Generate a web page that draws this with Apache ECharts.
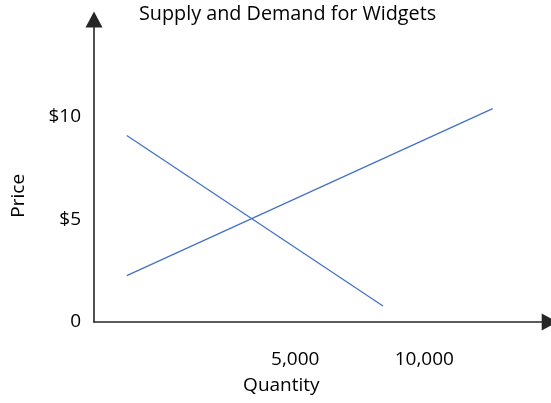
<!DOCTYPE html>
<html>
<head>
<meta charset="utf-8">
<script src="https://cdn.jsdelivr.net/npm/echarts@6/dist/echarts.min.js"></script>
<style>html,body{margin:0;padding:0;background:#fff}#c{width:551px;height:403px}</style>
</head>
<body>
<div id="c"></div>
<script>
// ---- data ----
var titleText = 'Supply and Demand for Widgets';
var xName = 'Quantity';
var yName = 'Price';
var xTickValues = [5000, 10000];
var xTickLabels = ['5,000', '10,000'];
var yTickValues = [0, 5, 10];
var yTickLabels = ['0', '$5', '$10'];
var supplyQty = [-1530, 12650];
var supplyPrice = [2.25, 10.37];
var demandQty = [-1530, 8400];
var demandPrice = [9.06, 0.78];

function pairs(xs, ys) { return xs.map(function (x, i) { return [x, ys[i]]; }); }

var FONT = 'Open Sans';
var chart = echarts.init(document.getElementById('c'), null, { renderer: 'canvas' });
chart.setOption({
  animation: false,
  backgroundColor: '#ffffff',
  title: {
    text: titleText,
    left: 139,
    top: 4,
    padding: 0,
    textStyle: { fontFamily: FONT, fontSize: 19.8, fontWeight: 'normal', color: '#000' }
  },
  grid: { left: 94, right: 1.3, top: 19.5, bottom: 81, containLabel: false },
  xAxis: {
    type: 'value',
    min: -2800,
    max: 14860,
    splitLine: { show: false },
    axisTick: { show: false },
    axisLine: {
      onZero: false,
      symbol: ['none', 'triangle'],
      symbolSize: [17, 16],
      lineStyle: { color: '#262626', width: 1.6 }
    },
    axisLabel: {
      customValues: xTickValues,
      formatter: function (v) { var i = xTickValues.indexOf(v); return i >= 0 ? xTickLabels[i] : ''; },
      margin: 28,
      fontFamily: FONT, fontSize: 19, color: '#000'
    },
    name: xName,
    nameLocation: 'middle',
    nameGap: 54,
    nameTextStyle: { fontFamily: FONT, fontSize: 19, color: '#000', padding: [0, 81, 0, 0] }
  },
  yAxis: {
    type: 'value',
    min: 0,
    max: 14.7,
    splitLine: { show: false },
    axisTick: { show: false },
    axisLine: {
      onZero: false,
      symbol: ['none', 'triangle'],
      symbolSize: [17, 16],
      lineStyle: { color: '#262626', width: 1.6 }
    },
    axisLabel: {
      customValues: yTickValues,
      formatter: function (v) { var i = yTickValues.indexOf(v); return i >= 0 ? yTickLabels[i] : ''; },
      margin: 13,
      fontFamily: FONT, fontSize: 19, color: '#000'
    },
    name: yName,
    nameLocation: 'middle',
    nameRotate: 90,
    nameGap: 66,
    nameTextStyle: { fontFamily: FONT, fontSize: 19, color: '#000', padding: [0, 50, 0, 0] }
  },
  series: [
    {
      name: 'Supply', type: 'line', data: pairs(supplyQty, supplyPrice),
      symbol: 'none', lineStyle: { color: '#4472C4', width: 1.3 }
    },
    {
      name: 'Demand', type: 'line', data: pairs(demandQty, demandPrice),
      symbol: 'none', lineStyle: { color: '#4472C4', width: 1.3 }
    }
  ]
});
</script>
</body>
</html>
